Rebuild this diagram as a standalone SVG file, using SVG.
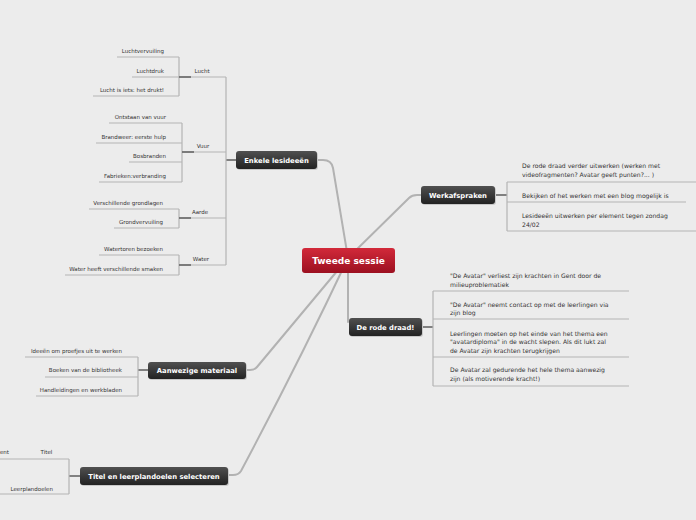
<svg xmlns="http://www.w3.org/2000/svg" width="696" height="520" viewBox="0 0 696 520">
<defs>
<linearGradient id="gDark" x1="0" y1="0" x2="0" y2="1">
<stop offset="0" stop-color="#505050"/>
<stop offset="1" stop-color="#222222"/>
</linearGradient>
<linearGradient id="gRed" x1="0" y1="0" x2="0" y2="1">
<stop offset="0" stop-color="#d2293a"/>
<stop offset="1" stop-color="#9c1020"/>
</linearGradient>
<style>
.main{fill:none;stroke:#b2b2b2;stroke-width:2;stroke-linecap:round}
.ln{fill:none;stroke:#b4b4b4;stroke-width:1.2}
.dk{fill:none;stroke:#666;stroke-width:1.6}
.node{fill:url(#gDark)}
.shadow{fill:#c8c8c8}
.nt{font-family:"DejaVu Sans",Verdana,sans-serif;font-weight:bold;font-size:6.8px;fill:#fff;text-anchor:middle}
.ct{font-family:"DejaVu Sans",Verdana,sans-serif;font-weight:bold;font-size:9px;fill:#fff;text-anchor:middle}
.st{font-family:"DejaVu Sans",Verdana,sans-serif;font-size:5.5px;fill:#333;text-anchor:end}
.lt{font-family:"DejaVu Sans",Verdana,sans-serif;font-size:5.5px;fill:#333;text-anchor:middle}
.rt{font-family:"DejaVu Sans",Verdana,sans-serif;font-size:6.1px;fill:#333}
</style>
</defs>
<rect width="696" height="520" fill="#ececec"/>

<g id="connectors">
<path class="main" d="M348,258 L333,168 Q331.5,160 323,160 L317,160"/>
<path class="main" d="M348,258 L409,198 Q412,195 417,195 L421,195"/>
<path class="main" d="M348,262 L348,322"/>
<path class="main" d="M348,258 L257,367 Q254.5,370 250,370 L246,370"/>
<path class="main" d="M348,258 Q300,360 241,471 Q238.5,475 233,475 L228,475"/>
<!-- Enkele lesideeen tree -->
<path class="dk" d="M236,160 H226"/>
<path class="ln" d="M226,77 V265"/>
<path class="ln" d="M179,57 V96 M117,57 H179 M132,77 H226 M93,96 H179"/>
<path class="dk" d="M179,77 H191"/>
<path class="ln" d="M182,123 V182 M109,123 H182 M96,143 H182 M129,162 H182 M99,182 H182 M182,152 H226"/>
<path class="dk" d="M182,152 H194"/>
<path class="ln" d="M179,209 V228 M89,209 H179 M114,228 H179 M179,218 H226"/>
<path class="dk" d="M179,218 H191"/>
<path class="ln" d="M179,255 V275 M99,255 H179 M65,275 H179 M179,265 H226"/>
<path class="dk" d="M179,265 H191"/>
<!-- Werkafspraken tree -->
<path class="dk" d="M495,195 H507"/>
<path class="ln" d="M507,182 V231 M507,182 H696 M507,202 H686 M507,231 H696"/>
<!-- De rode draad tree -->
<path class="dk" d="M422,327 H433"/>
<path class="ln" d="M433,291 V386 M433,291 H629 M433,319 H629 M433,357 H629 M433,386 H629"/>
<!-- Aanwezige materiaal tree -->
<path class="dk" d="M148,370 H138"/>
<path class="ln" d="M138,357 V396 M25,357 H138 M45,377 H138 M36,396 H138"/>
<!-- Titel tree -->
<path class="dk" d="M80,476 H69"/>
<path class="ln" d="M69,459 V494 M0,459 H69 M0,494 H69"/>
</g>

<g id="n-centre">
<rect x="302" y="248" width="93" height="25" rx="3" fill="url(#gRed)"/>
<text class="ct" x="348.5" y="264">Tweede sessie</text>
</g>

<g id="n-enkele">
<rect class="shadow" x="237" y="152" width="81" height="18" rx="3"/>
<rect class="node" x="236" y="151" width="81" height="18" rx="3"/>
<text class="nt" x="276.5" y="162.5">Enkele lesideeën</text>
</g>
<g id="n-lucht">
<text class="lt" x="202" y="73">Lucht</text>
<text class="st" x="164" y="53">Luchtvervuiling</text>
<text class="st" x="164" y="73">Luchtdruk</text>
<text class="st" x="164" y="92">Lucht is iets: het drukt!</text>
</g>
<g id="n-vuur">
<text class="lt" x="203" y="148">Vuur</text>
<text class="st" x="166" y="119">Ontstaan van vuur</text>
<text class="st" x="166" y="139">Brandweer: eerste hulp</text>
<text class="st" x="166" y="158">Bosbranden</text>
<text class="st" x="166" y="178">Fabrieken:verbranding</text>
</g>
<g id="n-aarde">
<text class="lt" x="200" y="214">Aarde</text>
<text class="st" x="163" y="205">Verschillende grondlagen</text>
<text class="st" x="163" y="224">Grondvervuiling</text>
</g>
<g id="n-water">
<text class="lt" x="201" y="261">Water</text>
<text class="st" x="163" y="251">Watertoren bezoeken</text>
<text class="st" x="163" y="271">Water heeft verschillende smaken</text>
</g>

<g id="n-werkafspraken">
<rect class="shadow" x="422" y="187" width="74" height="18" rx="3"/>
<rect class="node" x="421" y="186" width="74" height="18" rx="3"/>
<text class="nt" x="458" y="197.5">Werkafspraken</text>
<text class="rt" x="522" y="167.5">De rode draad verder uitwerken (werken met</text>
<text class="rt" x="522" y="176.5">videofragmenten? Avatar geeft punten?... )</text>
<text class="rt" x="522" y="197.5">Bekijken of het werken met een blog mogelijk is</text>
<text class="rt" x="522" y="217.5">Lesideeën uitwerken per element tegen zondag</text>
<text class="rt" x="522" y="226.5">24/02</text>
</g>

<g id="n-rodedraad">
<rect class="shadow" x="350" y="319" width="73" height="18" rx="3"/>
<rect class="node" x="349" y="318" width="73" height="18" rx="3"/>
<text class="nt" x="385.5" y="329.5">De rode draad!</text>
<text class="rt" x="450" y="278">"De Avatar" verliest zijn krachten in Gent door de</text>
<text class="rt" x="450" y="286.5">milieuproblematiek</text>
<text class="rt" x="450" y="306.5">"De Avatar" neemt contact op met de leerlingen via</text>
<text class="rt" x="450" y="315">zijn blog</text>
<text class="rt" x="450" y="335.5">Leerlingen moeten op het einde van het thema een</text>
<text class="rt" x="450" y="344">"avatardiploma" in de wacht slepen. Als dit lukt zal</text>
<text class="rt" x="450" y="352.5">de Avatar zijn krachten terugkrijgen</text>
<text class="rt" x="450" y="372">De Avatar zal gedurende het hele thema aanwezig</text>
<text class="rt" x="450" y="380.5">zijn (als motiverende kracht!)</text>
</g>

<g id="n-aanwezige">
<rect class="shadow" x="149" y="363" width="98" height="17" rx="3"/>
<rect class="node" x="148" y="362" width="98" height="17" rx="3"/>
<text class="nt" x="197" y="373">Aanwezige materiaal</text>
<text class="st" x="122" y="353">Ideeën om proefjes uit te werken</text>
<text class="st" x="122" y="372">Boeken van de bibliotheek</text>
<text class="st" x="122" y="392">Handleidingen en werkbladen</text>
</g>

<g id="n-titel">
<rect class="shadow" x="81" y="468" width="148" height="18" rx="3"/>
<rect class="node" x="80" y="467" width="148" height="18" rx="3"/>
<text class="nt" x="154" y="478.5">Titel en leerplandoelen selecteren</text>
<text class="lt" x="46.5" y="454">Titel</text>
<text class="st" x="9" y="454">ent</text>
<text class="st" x="53" y="491">Leerplandoelen</text>
</g>
</svg>
